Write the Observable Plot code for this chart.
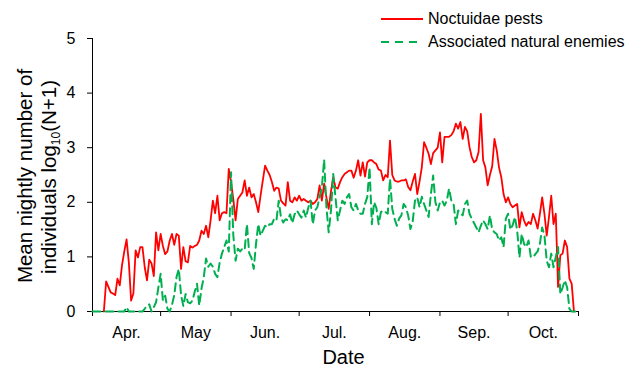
<!DOCTYPE html>
<html>
<head>
<meta charset="utf-8">
<script src="https://cdn.jsdelivr.net/npm/d3@7"></script>
<script src="https://cdn.jsdelivr.net/npm/@observablehq/plot@0.6"></script>
<style>
  body { margin: 0; background: #fff; }
  #wrap { position: relative; width: 630px; height: 373px; font-family: "Liberation Sans", Arial, sans-serif; }
  .legend { position: absolute; left: 381px; top: 8px; font-size: 16px; color: #000; }
  .legend .row { display: flex; align-items: center; height: 22.7px; white-space: nowrap; }
  .legend svg { margin-right: 5px; display: block; }
</style>
</head>
<body>
<div id="wrap"></div>
<script>
// Nightly light-trap catches, log10(N+1), one value per night, day 0 = 1 April.
const pestStart = 5;   // first night of the Noctuidae series
const pestLog = [
  0, 0.55, 0.45, 0.35, 0.33, 0.3, 0.6, 0.48, 0.85, 1.1,
  1.32, 0.9, 0.2, 0.33, 1.12, 0.99, 1.18, 1.18, 0.81, 0.57,
  0.95, 0.88, 0.65, 1.45, 1.12, 1.42, 1.2, 1.05, 1.1, 1.3,
  1.42, 1.22, 1.42, 1.39, 0.78, 1.18, 0.92, 0.9, 1.2, 1.17,
  1.2, 1.22, 1.3, 1.48, 1.42, 1.57, 1.36, 1.67, 2.03, 1.8,
  2.12, 1.67, 1.8, 1.82, 1.8, 2.61, 2.37, 2.06, 1.67, 2.06,
  2.12, 2.18, 2.4, 2.12, 2.27, 2.09, 2.15, 2.0, 1.82, 2.12,
  2.4, 2.67, 2.58, 2.5, 2.37, 2.21, 2.27, 2.25, 2.03, 1.98,
  1.94, 2.37, 2.03, 2.0, 2.09, 2.03, 2.12, 2.03, 2.06, 2.03,
  2.0, 2.03, 1.97, 2.0, 2.06, 2.31, 2.03, 2.34, 2.09, 1.88,
  2.2, 2.46, 2.27, 2.25, 2.37, 2.46, 2.52, 2.55, 2.58, 2.58,
  2.45, 2.58, 2.77, 2.49, 2.73, 2.47, 2.73, 2.77, 2.77, 2.73,
  2.7, 2.6, 2.58, 2.4, 2.5, 2.46, 3.13, 2.5, 2.4, 2.38,
  2.38, 2.4, 2.4, 2.42, 2.28, 2.22, 2.38, 2.52, 2.15, 2.38,
  2.64, 3.1, 3.0, 2.89, 2.7, 2.9, 2.95, 3.0, 3.28, 2.73,
  3.2, 3.2, 3.2, 3.23, 3.3, 3.44, 3.35, 3.47, 3.16, 3.38,
  3.3, 3.01, 2.83, 2.73, 2.77, 2.92, 3.62, 2.77, 2.64, 2.31,
  2.5, 2.66, 3.16, 2.95, 2.64, 2.46, 2.15, 2.0, 2.09, 1.97,
  1.91, 1.94, 1.97, 1.54, 1.82, 1.67, 1.57, 1.64, 1.6, 1.79,
  1.67, 1.52, 1.79, 2.09, 1.79, 1.39, 1.73, 2.12, 1.6, 1.79,
  0.45, 1.03, 1.06, 1.3, 1.18, 0.6, 0.51, 0
];

const enemyStart = 0;  // first night of the natural-enemy series
const enemyLog = [
  0, 0, 0, 0, 0, 0, 0, 0, 0, 0,
  0, 0, 0, 0, 0, 0.08, 0, 0, 0, 0,
  0, 0, 0, 0.05, 0.11, 0.13, 0, 0.08, 0.17, 0.44,
  0.69, 0.2, 0.29, 0.05, 0, 0.12, 0.3, 0.63, 0.78, 0.3,
  0.1, 0.32, 0.17, 0.15, 0.2, 0.36, 0.51, 0.11, 0.42, 0.63,
  0.97, 0.82, 0.88, 0.82, 0.69, 0.63, 0.9, 1.06, 1.18, 1.3,
  1.1, 2.55, 1.4, 0.93, 1.15, 1.1, 1.15, 1.13, 1.6, 1.07,
  0.98, 0.78, 1.24, 1.6, 1.39, 1.48, 1.57, 1.54, 1.6, 1.6,
  1.7, 1.67, 2.03, 1.72, 1.63, 1.69, 1.67, 1.78, 1.62, 1.78,
  1.85, 1.78, 1.72, 1.85, 1.72, 1.9, 2.03, 1.6, 1.85, 1.91,
  2.1, 2.28, 2.78, 1.91, 1.45, 1.85, 2.52, 2.09, 1.67, 1.85,
  2.03, 1.97, 2.09, 2.15, 1.91, 1.85, 1.97, 1.85, 1.79, 1.79,
  1.97, 2.1, 2.64, 1.6, 2.0, 1.9, 1.6, 1.82, 1.85, 1.82,
  1.79, 2.43, 1.88, 1.7, 1.57, 1.7, 1.76, 1.97, 1.91, 1.76,
  1.51, 1.65, 2.03, 2.09, 1.91, 2.1, 1.97, 1.85, 1.73, 2.15,
  2.49, 2.0, 1.85, 2.0, 2.03, 1.94, 2.03, 2.25, 2.03, 1.97,
  1.6, 1.85, 1.8, 1.76, 1.97, 2.03, 1.79, 1.7, 1.62, 1.54,
  1.45, 1.57, 1.67, 1.6, 1.51, 1.76, 1.5, 1.45, 1.42, 1.3,
  1.36, 1.18, 1.7, 1.79, 1.5, 1.58, 1.73, 1.48, 0.99, 1.42,
  1.24, 1.18, 1.3, 1.0, 0.99, 1.05, 1.1, 1.24, 1.54, 1.4,
  0.93, 0.81, 1.06, 0.81, 1.0, 1.18, 0.32, 0.44, 0.57, 0.44,
  0.05, 0, 0, 0
];

// Month boundaries (days since 1 April) and their labels
const monthStarts = [0, 30, 61, 91, 122, 153, 183, 214];
const monthLabels = ["Apr.", "May", "Jun.", "Jul.", "Aug.", "Sep.", "Oct."];
const yTicks = [0, 1, 2, 3, 4, 5];

const seriesNames = ["Noctuidae pests", "Associated natural enemies"];
const seriesColors = ["#ff0000", "#00b050"];

const pestRows = pestLog.map((v, i) => ({day: pestStart + i, value: v}));
const enemyRows = enemyLog.map((v, i) => ({day: enemyStart + i, value: v}));
const monthMids = monthLabels.map((_, i) => (monthStarts[i] + monthStarts[i + 1]) / 2);

const font = '"Liberation Sans", Arial, sans-serif';

const chart = Plot.plot({
  width: 630,
  height: 373,
  marginLeft: 92,
  marginRight: 52,
  marginTop: 38,
  marginBottom: 62,
  style: {fontFamily: font, fontSize: "16px", color: "#000", background: "#fff"},
  x: {domain: [0, 214], axis: null},
  y: {domain: [0, 5], axis: null},
  marks: [
    Plot.axisY({ticks: yTicks, tickSize: 5, tickPadding: 12, tickFormat: d3.format("d"), label: null, fontSize: 16}),
    Plot.axisX({ticks: monthStarts, tickSize: 5, tickFormat: () => "", label: null}),
    Plot.ruleX([0], {stroke: "#000"}),
    Plot.ruleY([0], {stroke: "#000"}),
    Plot.text(monthLabels, {x: monthMids, frameAnchor: "bottom", dy: 26, fontSize: 16}),
    Plot.text(["Date"], {frameAnchor: "bottom", dx: 8, dy: 52, fontSize: 20}),
    Plot.line(pestRows, {x: "day", y: "value", stroke: seriesColors[0], strokeWidth: 1.8}),
    Plot.line(enemyRows, {x: "day", y: "value", stroke: seriesColors[1], strokeWidth: 2, strokeDasharray: "8,5"})
  ]
});

// Two-line rotated y-axis title with a subscript
const svg = d3.select(chart);
const yTitle = svg.append("g")
  .attr("font-family", font)
  .attr("font-size", 20.5)
  .attr("fill", "#000")
  .attr("text-anchor", "middle");
yTitle.append("text")
  .attr("transform", "translate(25,176) rotate(-90)")
  .attr("dy", "0.35em")
  .text("Mean nightly number of");
const line2 = yTitle.append("text")
  .attr("transform", "translate(49,177) rotate(-90)")
  .attr("dy", "0.35em");
line2.append("tspan").text("individuals log");
line2.append("tspan").attr("font-size", 12).attr("dy", "0.3em").text("10");
line2.append("tspan").attr("dy", "-0.18em").text("(N+1)");

const wrap = document.getElementById("wrap");
wrap.appendChild(chart);

// Legend in the top-right corner
const legend = d3.select(wrap).append("div").attr("class", "legend");
seriesNames.forEach((name, i) => {
  const row = legend.append("div").attr("class", "row");
  const sw = row.append("svg").attr("width", 42).attr("height", 6);
  sw.append("line")
    .attr("x1", 0).attr("x2", 42).attr("y1", 3).attr("y2", 3)
    .attr("stroke", seriesColors[i])
    .attr("stroke-width", 2)
    .attr("stroke-dasharray", i === 1 ? "8,6" : null);
  row.append("span").text(name);
});
</script>
</body>
</html>
